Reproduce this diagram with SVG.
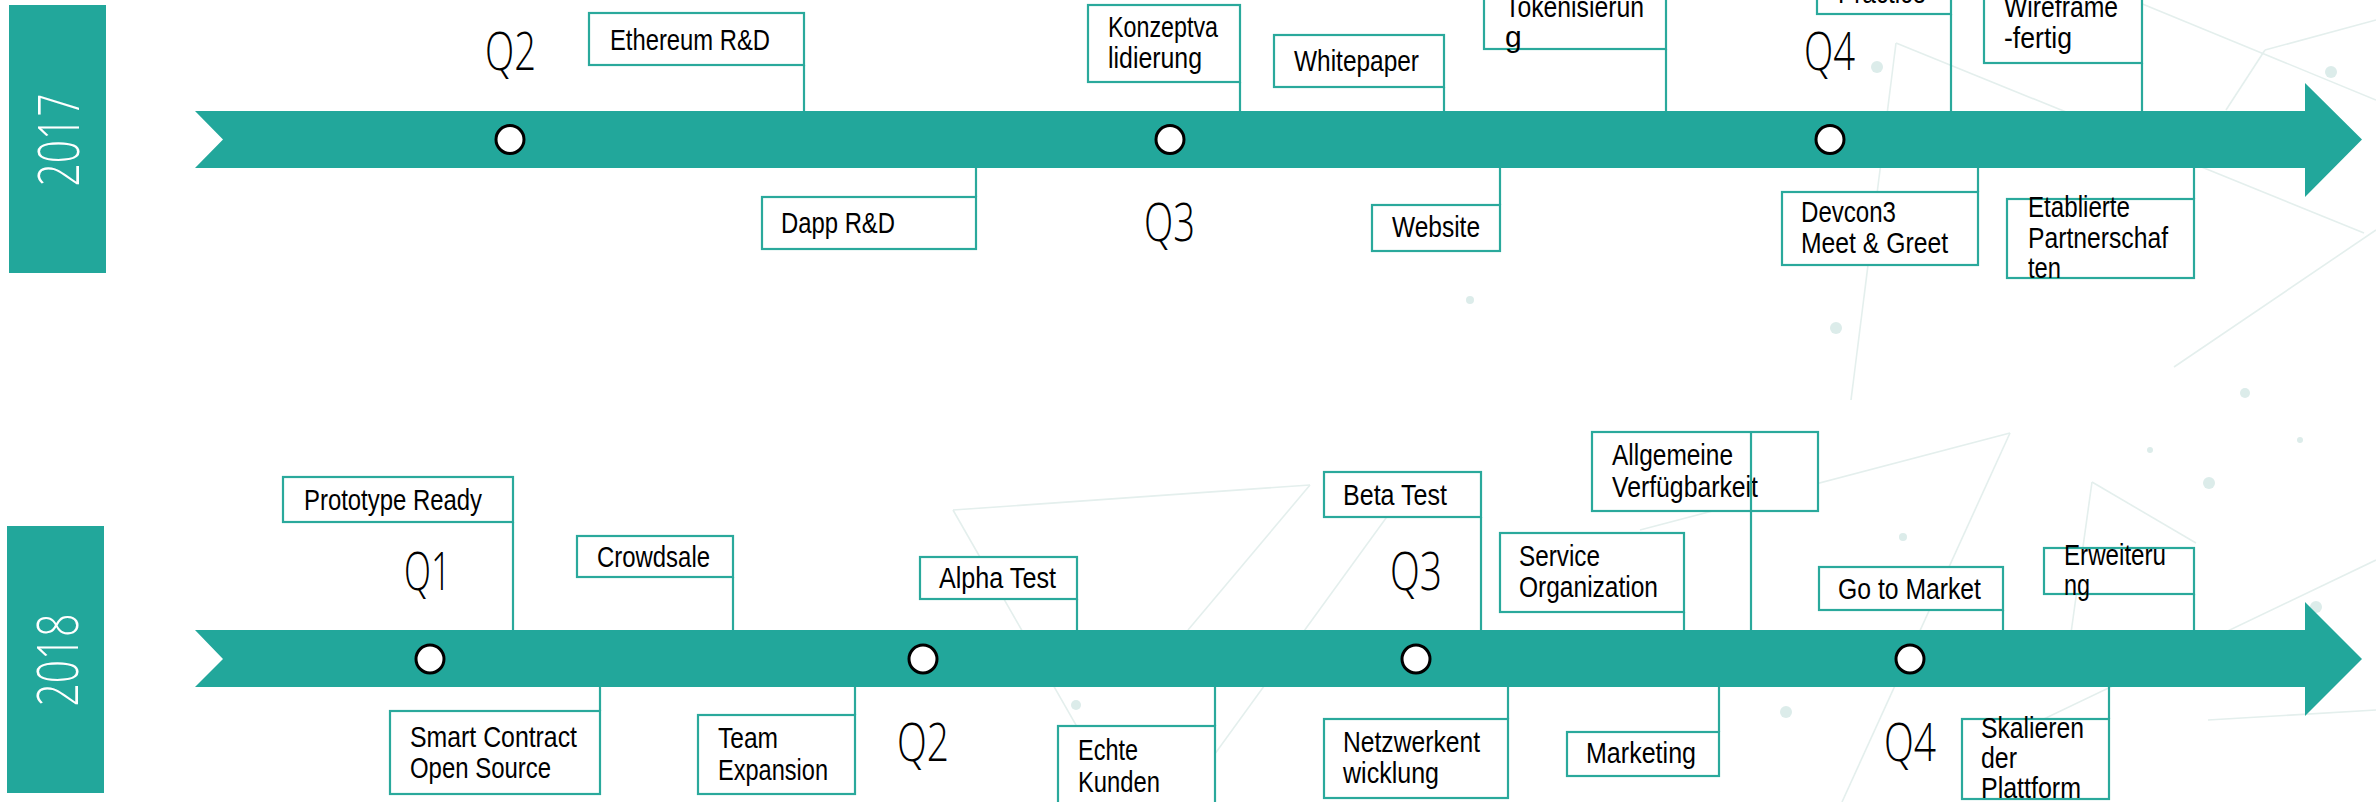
<svg xmlns="http://www.w3.org/2000/svg" width="2376" height="802" viewBox="0 0 2376 802">
<defs>
<style>
.bg line{stroke:#e4efed;stroke-width:1.6;fill:none}
.bg circle{fill:#dcecea}
.band{fill:#22a79b}
.year{fill:#22a79b}
.yt{font-family:"Open Sans","DejaVu Sans",sans-serif;font-weight:300;font-size:57px;fill:#ffffff}
.dot{fill:#ffffff;stroke:#000000;stroke-width:3}
.q{font-family:"Open Sans","DejaVu Sans",sans-serif;font-weight:300;font-size:54px;fill:#000000}
.box{fill:#ffffff;stroke:#2aa99c;stroke-width:2.2}
.lbl{font-family:"Liberation Sans",Arial,sans-serif;font-size:30px;fill:#000000}
.conn line{stroke:#2aa99c;stroke-width:2.2}
</style>
</defs>
<rect x="0" y="0" width="2376" height="802" fill="#ffffff"/>
<g class="bg" id="background">
<line x1="953" y1="510" x2="1310" y2="485"/>
<line x1="953" y1="510" x2="1120" y2="802"/>
<line x1="1310" y1="485" x2="1188" y2="630"/>
<line x1="1410" y1="485" x2="1180" y2="802"/>
<line x1="2092" y1="482" x2="2196" y2="543"/>
<line x1="2092" y1="482" x2="2071" y2="633"/>
<line x1="2010" y1="433" x2="1842" y2="802"/>
<line x1="2010" y1="433" x2="1640" y2="530"/>
<line x1="2208" y1="720" x2="2376" y2="710"/>
<line x1="2000" y1="740" x2="2376" y2="560"/>
<line x1="2140" y1="3" x2="2376" y2="100"/>
<line x1="1896" y1="43" x2="2364" y2="233"/>
<line x1="1896" y1="43" x2="1851" y2="400"/>
<line x1="2265" y1="50" x2="2226" y2="110"/>
<line x1="2376" y1="230" x2="2174" y2="367"/>
<line x1="2265" y1="50" x2="2376" y2="20"/>
<circle cx="1877" cy="67" r="6"/>
<circle cx="1836" cy="328" r="6"/>
<circle cx="2245" cy="393" r="5"/>
<circle cx="2331" cy="72" r="6"/>
<circle cx="2209" cy="483" r="6"/>
<circle cx="1903" cy="537" r="4"/>
<circle cx="1786" cy="712" r="6"/>
<circle cx="2316" cy="607" r="6"/>
<circle cx="1076" cy="705" r="5"/>
<circle cx="1470" cy="300" r="4"/>
<circle cx="2150" cy="450" r="3"/>
<circle cx="2300" cy="440" r="3"/>
</g>

<g id="timeline-2017">
<rect class="year" x="9" y="5" width="97" height="268"/>
<text class="yt" transform="translate(79,140) rotate(-90)" text-anchor="middle" textLength="93" lengthAdjust="spacingAndGlyphs">2017</text>
<polygon class="band" points="195,111 2305,111 2305,83 2362,139.5 2305,197 2305,168 195,168 223,139.5"/>
<circle class="dot" cx="510" cy="139.5" r="14"/>
<circle class="dot" cx="1170" cy="139.5" r="14"/>
<circle class="dot" cx="1830" cy="139.5" r="14"/>
<text class="q" x="485" y="70" textLength="51" lengthAdjust="spacingAndGlyphs">Q2</text>
<text class="q" x="1144" y="241" textLength="51" lengthAdjust="spacingAndGlyphs">Q3</text>
<text class="q" x="1804" y="70" textLength="51" lengthAdjust="spacingAndGlyphs">Q4</text>
</g>

<g id="timeline-2018">
<rect class="year" x="7" y="526" width="97" height="267"/>
<text class="yt" transform="translate(78,660) rotate(-90)" text-anchor="middle" textLength="93" lengthAdjust="spacingAndGlyphs">2018</text>
<polygon class="band" points="195,630 2305,630 2305,602 2362,659 2305,716 2305,687 195,687 223,659"/>
<circle class="dot" cx="430" cy="659" r="14"/>
<circle class="dot" cx="923" cy="659" r="14"/>
<circle class="dot" cx="1416" cy="659" r="14"/>
<circle class="dot" cx="1910" cy="659" r="14"/>
<text class="q" x="404" y="590" textLength="47" lengthAdjust="spacingAndGlyphs">Q1</text>
<text class="q" x="897" y="761" textLength="52" lengthAdjust="spacingAndGlyphs">Q2</text>
<text class="q" x="1390" y="590" textLength="52" lengthAdjust="spacingAndGlyphs">Q3</text>
<text class="q" x="1884" y="761" textLength="52" lengthAdjust="spacingAndGlyphs">Q4</text>
</g>

<g class="conn" id="connectors">
<line x1="804" y1="65" x2="804" y2="111"/>
<line x1="976" y1="168" x2="976" y2="197"/>
<line x1="1240" y1="82" x2="1240" y2="111"/>
<line x1="1444" y1="87" x2="1444" y2="111"/>
<line x1="1500" y1="168" x2="1500" y2="205"/>
<line x1="1666" y1="49" x2="1666" y2="111"/>
<line x1="1951" y1="14" x2="1951" y2="111"/>
<line x1="2142" y1="63" x2="2142" y2="111"/>
<line x1="1978" y1="168" x2="1978" y2="192"/>
<line x1="2194" y1="168" x2="2194" y2="199"/>
<line x1="513" y1="522" x2="513" y2="630"/>
<line x1="733" y1="577" x2="733" y2="630"/>
<line x1="600" y1="687" x2="600" y2="711"/>
<line x1="855" y1="687" x2="855" y2="715"/>
<line x1="1077" y1="599" x2="1077" y2="630"/>
<line x1="1215" y1="687" x2="1215" y2="726"/>
<line x1="1481" y1="517" x2="1481" y2="630"/>
<line x1="1684" y1="612" x2="1684" y2="630"/>
<line x1="1508" y1="687" x2="1508" y2="719"/>
<line x1="1719" y1="687" x2="1719" y2="732"/>
<line x1="2003" y1="610" x2="2003" y2="630"/>
<line x1="2194" y1="594" x2="2194" y2="630"/>
<line x1="2109" y1="687" x2="2109" y2="719"/>
</g>

<g id="n-ethereum"><rect class="box" x="589" y="13" width="215" height="52"/><text class="lbl" x="610" y="50" textLength="160" lengthAdjust="spacingAndGlyphs">Ethereum R&amp;D</text></g>
<g id="n-dapp"><rect class="box" x="762" y="197" width="214" height="52"/><text class="lbl" x="781" y="233" textLength="114" lengthAdjust="spacingAndGlyphs">Dapp R&amp;D</text></g>
<g id="n-konzept"><rect class="box" x="1088" y="5" width="152" height="77"/><text class="lbl" x="1108" y="37" textLength="110" lengthAdjust="spacingAndGlyphs">Konzeptva</text><text class="lbl" x="1108" y="68" textLength="94" lengthAdjust="spacingAndGlyphs">lidierung</text></g>
<g id="n-whitepaper"><rect class="box" x="1274" y="35" width="170" height="52"/><text class="lbl" x="1294" y="71" textLength="125" lengthAdjust="spacingAndGlyphs">Whitepaper</text></g>
<g id="n-website"><rect class="box" x="1372" y="205" width="128" height="46"/><text class="lbl" x="1392" y="237" textLength="88" lengthAdjust="spacingAndGlyphs">Website</text></g>
<g id="n-token"><rect class="box" x="1484" y="-30" width="182" height="79"/><text class="lbl" x="1505" y="17" textLength="139" lengthAdjust="spacingAndGlyphs">Tokenisierun</text><text class="lbl" x="1505" y="47">g</text></g>
<g id="n-practice"><rect class="box" x="1817" y="-30" width="134" height="44"/><text class="lbl" x="1838" y="3" textLength="88" lengthAdjust="spacingAndGlyphs">Practice</text></g>
<g id="n-wireframe"><rect class="box" x="1984" y="-20" width="158" height="83"/><text class="lbl" x="2004" y="17" textLength="114" lengthAdjust="spacingAndGlyphs">Wireframe</text><text class="lbl" x="2004" y="48" textLength="68" lengthAdjust="spacingAndGlyphs">-fertig</text></g>
<g id="n-devcon"><rect class="box" x="1782" y="192" width="196" height="73"/><text class="lbl" x="1801" y="222" textLength="95" lengthAdjust="spacingAndGlyphs">Devcon3</text><text class="lbl" x="1801" y="253" textLength="147" lengthAdjust="spacingAndGlyphs">Meet &amp; Greet</text></g>
<g id="n-etablierte"><rect class="box" x="2007" y="199" width="187" height="79"/><text class="lbl" x="2028" y="217" textLength="102" lengthAdjust="spacingAndGlyphs">Etablierte</text><text class="lbl" x="2028" y="248" textLength="140" lengthAdjust="spacingAndGlyphs">Partnerschaf</text><text class="lbl" x="2028" y="278" textLength="33" lengthAdjust="spacingAndGlyphs">ten</text></g>

<g id="n-prototype"><rect class="box" x="283" y="477" width="230" height="45"/><text class="lbl" x="304" y="510" textLength="178" lengthAdjust="spacingAndGlyphs">Prototype Ready</text></g>
<g id="n-crowdsale"><rect class="box" x="577" y="536" width="156" height="41"/><text class="lbl" x="597" y="567" textLength="113" lengthAdjust="spacingAndGlyphs">Crowdsale</text></g>
<g id="n-smart"><rect class="box" x="390" y="711" width="210" height="83"/><text class="lbl" x="410" y="747" textLength="167" lengthAdjust="spacingAndGlyphs">Smart Contract</text><text class="lbl" x="410" y="778" textLength="141" lengthAdjust="spacingAndGlyphs">Open Source</text></g>
<g id="n-team"><rect class="box" x="698" y="715" width="157" height="79"/><text class="lbl" x="718" y="748" textLength="60" lengthAdjust="spacingAndGlyphs">Team</text><text class="lbl" x="718" y="780" textLength="110" lengthAdjust="spacingAndGlyphs">Expansion</text></g>
<g id="n-alpha"><rect class="box" x="920" y="557" width="157" height="42"/><text class="lbl" x="939" y="588" textLength="117" lengthAdjust="spacingAndGlyphs">Alpha Test</text></g>
<g id="n-echte"><rect class="box" x="1058" y="726" width="157" height="90"/><text class="lbl" x="1078" y="760" textLength="60" lengthAdjust="spacingAndGlyphs">Echte</text><text class="lbl" x="1078" y="792" textLength="82" lengthAdjust="spacingAndGlyphs">Kunden</text></g>
<g id="n-beta"><rect class="box" x="1324" y="472" width="157" height="45"/><text class="lbl" x="1343" y="505" textLength="104" lengthAdjust="spacingAndGlyphs">Beta Test</text></g>
<g id="n-service"><rect class="box" x="1500" y="533" width="184" height="79"/><text class="lbl" x="1519" y="566" textLength="81" lengthAdjust="spacingAndGlyphs">Service</text><text class="lbl" x="1519" y="597" textLength="139" lengthAdjust="spacingAndGlyphs">Organization</text></g>
<g id="n-netzwerk"><rect class="box" x="1324" y="719" width="184" height="79"/><text class="lbl" x="1343" y="752" textLength="137" lengthAdjust="spacingAndGlyphs">Netzwerkent</text><text class="lbl" x="1343" y="783" textLength="96" lengthAdjust="spacingAndGlyphs">wicklung</text></g>
<g id="n-marketing"><rect class="box" x="1567" y="732" width="152" height="44"/><text class="lbl" x="1586" y="763" textLength="110" lengthAdjust="spacingAndGlyphs">Marketing</text></g>
<g id="n-allgemeine"><rect class="box" x="1592" y="432" width="226" height="79"/><text class="lbl" x="1612" y="465" textLength="121" lengthAdjust="spacingAndGlyphs">Allgemeine</text><text class="lbl" x="1612" y="497" textLength="146" lengthAdjust="spacingAndGlyphs">Verfügbarkeit</text><line x1="1751" y1="432" x2="1751" y2="630" stroke="#2aa99c" stroke-width="2.2"/></g>
<g id="n-gomarket"><rect class="box" x="1819" y="567" width="184" height="43"/><text class="lbl" x="1838" y="599" textLength="143" lengthAdjust="spacingAndGlyphs">Go to Market</text></g>
<g id="n-erweiterung"><rect class="box" x="2044" y="548" width="150" height="46"/><text class="lbl" x="2064" y="565" textLength="102" lengthAdjust="spacingAndGlyphs">Erweiteru</text><text class="lbl" x="2064" y="595" textLength="26" lengthAdjust="spacingAndGlyphs">ng</text></g>
<g id="n-skalieren"><rect class="box" x="1962" y="719" width="147" height="80"/><text class="lbl" x="1981" y="738" textLength="103" lengthAdjust="spacingAndGlyphs">Skalieren</text><text class="lbl" x="1981" y="768" textLength="36" lengthAdjust="spacingAndGlyphs">der</text><text class="lbl" x="1981" y="798" textLength="100" lengthAdjust="spacingAndGlyphs">Plattform</text></g>
</svg>
